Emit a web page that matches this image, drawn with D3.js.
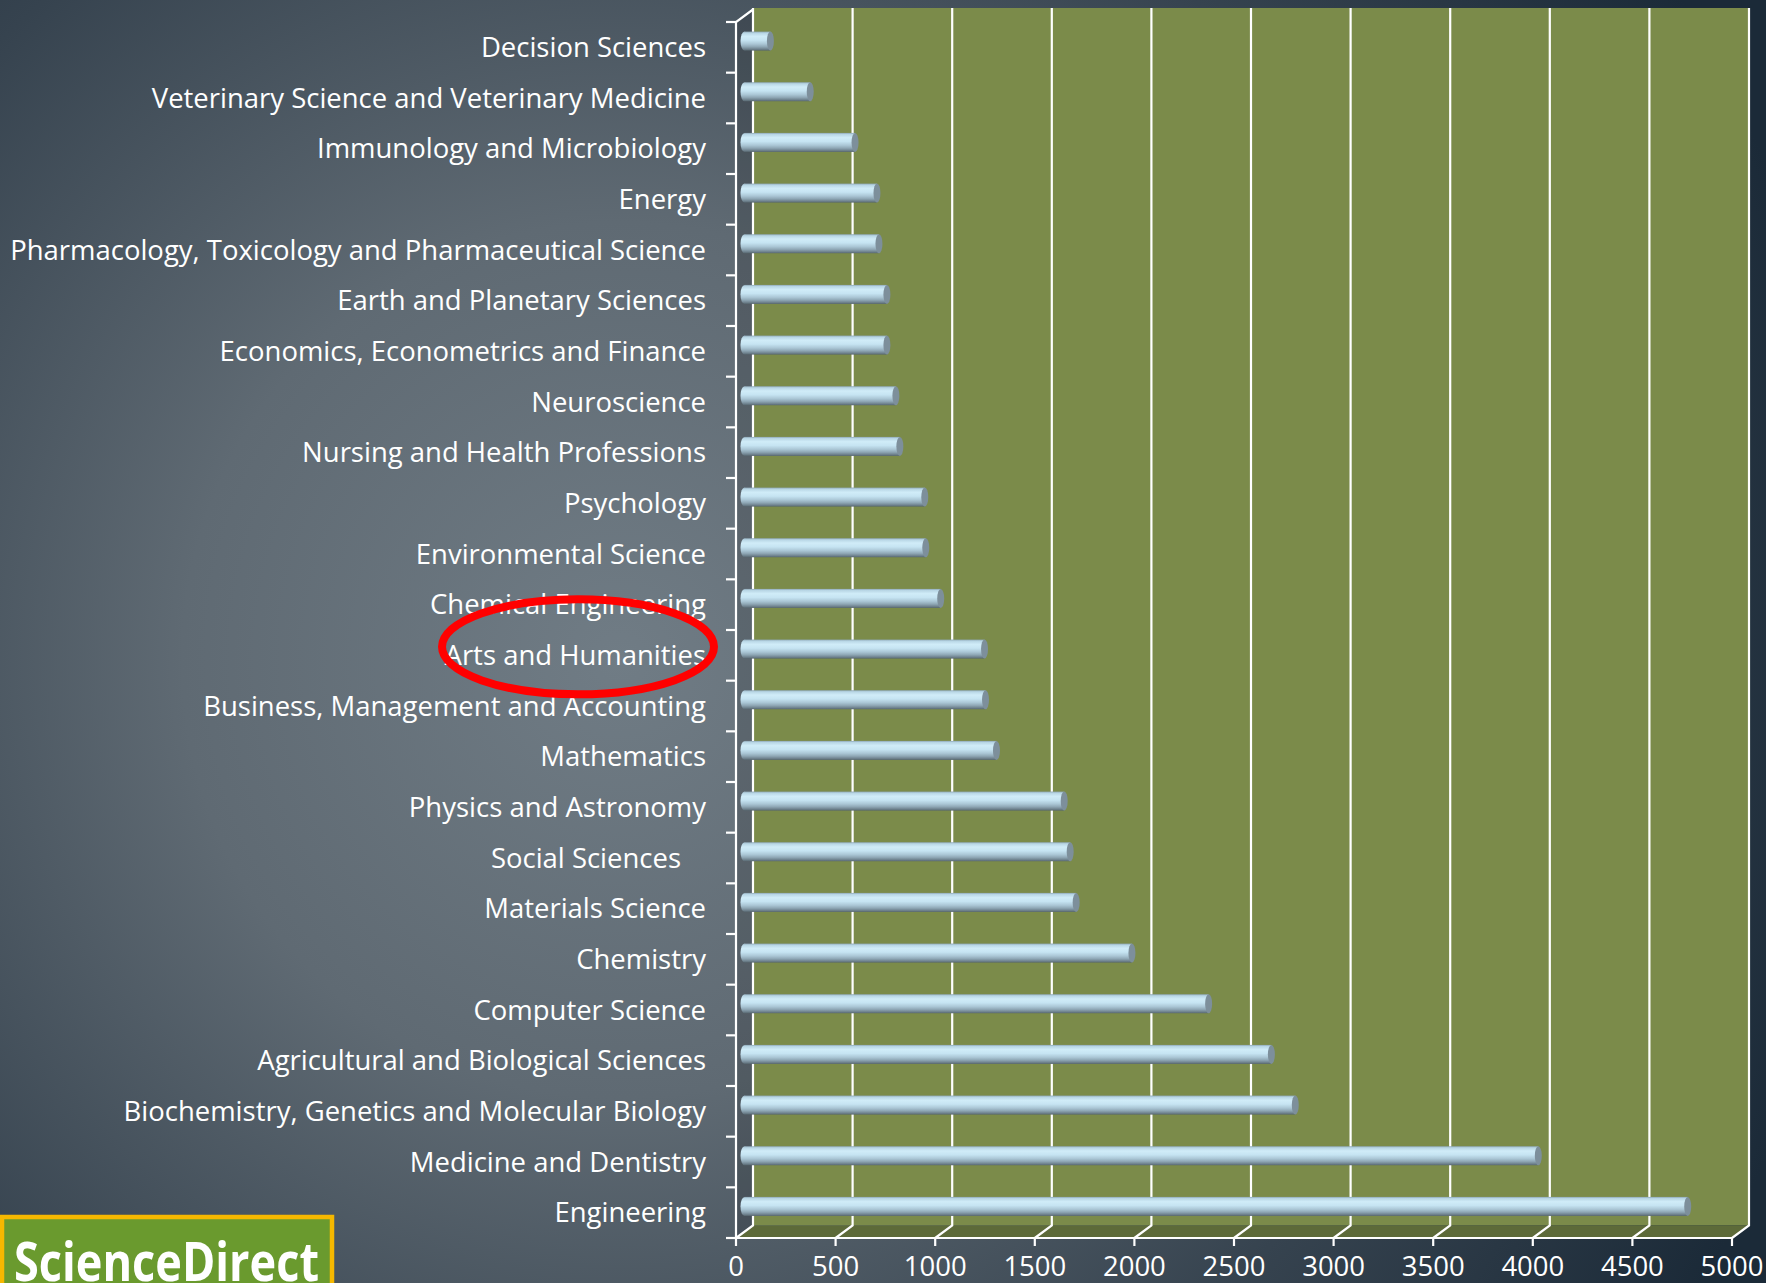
<!DOCTYPE html>
<html>
<head>
<meta charset="utf-8">
<script src="https://cdn.jsdelivr.net/npm/d3@7"></script>
<style>
  html, body { margin: 0; padding: 0; background: #1d2b39; }
  svg { display: block; }
  .cat-label, .tick-label { fill: #ffffff; font-family: "Open Sans", Lato, sans-serif; }
</style>
</head>
<body>
<svg id="chart" width="1766" height="1283"></svg>
<script>
(function () {
  "use strict";

  // data, top to bottom as in the picture
  const categories = [
    "Decision Sciences",
    "Veterinary Science and Veterinary Medicine",
    "Immunology and Microbiology",
    "Energy",
    "Pharmacology, Toxicology and Pharmaceutical Science",
    "Earth and Planetary Sciences",
    "Economics, Econometrics and Finance",
    "Neuroscience",
    "Nursing and Health Professions",
    "Psychology",
    "Environmental Science",
    "Chemical Engineering",
    "Arts and Humanities",
    "Business, Management and Accounting",
    "Mathematics",
    "Physics and Astronomy",
    "Social Sciences",
    "Materials Science",
    "Chemistry",
    "Computer Science",
    "Agricultural and Biological Sciences",
    "Biochemistry, Genetics and Molecular Biology",
    "Medicine and Dentistry",
    "Engineering"
  ];
  const counts = [
    130, 330, 555, 665, 675, 715, 715, 760, 780, 905, 910, 985,
    1205, 1210, 1265, 1605, 1635, 1665, 1945, 2330, 2645, 2765, 3985, 4735
  ];
  const xTicks = [0, 500, 1000, 1500, 2000, 2500, 3000, 3500, 4000, 4500, 5000];
  const highlighted = "Arts and Humanities";
  // the label carries trailing spaces in the source slide
  const labelPad = { "Social Sciences": 25 };

  const W = 1766, H = 1283;
  const svg = d3.select("#chart");
  const defs = svg.append("defs");

  // fake 3d depth of the plot box
  const depthX = 17, depthY = -12.5;

  const x = d3.scaleLinear().domain([0, 5000]).range([736, 1732]);
  const y = d3.scaleBand().domain(categories).range([22, 1238]).padding(0);
  const floorY = y.range()[1];
  const topY = y.range()[0];

  // background
  const bg = defs.append("radialGradient").attr("id", "bg")
    .attr("gradientUnits", "userSpaceOnUse")
    .attr("cx", 620).attr("cy", 660).attr("r", 1250);
  bg.append("stop").attr("offset", 0).attr("stop-color", "#707c85");
  bg.append("stop").attr("offset", 0.35).attr("stop-color", "#5f6a73");
  bg.append("stop").attr("offset", 0.7).attr("stop-color", "#36434f");
  bg.append("stop").attr("offset", 1).attr("stop-color", "#1b2a38");
  svg.append("rect").attr("width", W).attr("height", H).attr("fill", "url(#bg)");

  // back wall
  const plot = svg.append("g");
  plot.append("rect")
    .attr("x", x(0) + depthX).attr("y", topY + depthY - 1.5)
    .attr("width", x(5000) - x(0)).attr("height", floorY - topY + 1.5)
    .attr("fill", "#7b8b4a");

  // side wall
  plot.append("path")
    .attr("d", `M${x(0)},${topY}L${x(0) + depthX},${topY + depthY}L${x(0) + depthX},${floorY + depthY}L${x(0)},${floorY}Z`)
    .attr("fill", "#000").attr("fill-opacity", 0.14);

  // floor
  plot.append("path")
    .attr("d", `M${x(0)},${floorY}L${x(0) + depthX},${floorY + depthY}L${x(5000) + depthX},${floorY + depthY}L${x(5000)},${floorY}Z`)
    .attr("fill", "#5d6a39");

  // gridlines on wall and floor
  const grid = plot.append("g").attr("stroke", "#ffffff").attr("stroke-width", 2.2).attr("fill", "none");
  grid.selectAll("path.grid")
    .data(xTicks)
    .join("path")
    .attr("class", "grid")
    .attr("d", (d) => `M${x(d) + depthX},${topY + depthY - 1.5}V${floorY + depthY}L${x(d)},${floorY}`);

  // y axis with ticks and top diagonal
  grid.append("path")
    .attr("d", `M${x(0) + depthX},${topY + depthY}L${x(0)},${topY}V${floorY}H${x(5000)}`);
  const bounds = categories.map((c) => y(c)).concat([floorY]);
  grid.selectAll("line.ytick")
    .data(bounds)
    .join("line")
    .attr("class", "ytick")
    .attr("x1", x(0) - 10).attr("x2", x(0))
    .attr("y1", (d) => d).attr("y2", (d) => d);
  grid.selectAll("line.xtick")
    .data(xTicks)
    .join("line")
    .attr("class", "xtick")
    .attr("x1", (d) => x(d)).attr("x2", (d) => x(d))
    .attr("y1", floorY).attr("y2", floorY + 8);

  // cylinder shading
  const cyl = defs.append("linearGradient").attr("id", "cyl")
    .attr("x1", 0).attr("y1", 0).attr("x2", 0).attr("y2", 1);
  [[0, "#8ea7b6"], [0.08, "#b8d6e5"], [0.25, "#d0ecf8"], [0.45, "#c6e4f2"],
   [0.65, "#abc7d6"], [0.8, "#8fa7b5"], [0.92, "#70838f"], [1, "#56666f"]]
    .forEach(([o, c]) => cyl.append("stop").attr("offset", o).attr("stop-color", c));

  const barH = 19;
  const xm = (v) => x(v) + depthX / 2;
  const cy = (c) => y(c) + y.bandwidth() / 2 + depthY / 2;

  const bars = plot.append("g").selectAll("g.bar")
    .data(categories.map((c, i) => ({ cat: c, value: counts[i] })))
    .join("g")
    .attr("class", "bar");

  bars.append("ellipse")
    .attr("cx", xm(0)).attr("cy", (d) => cy(d.cat))
    .attr("rx", 4).attr("ry", barH / 2)
    .attr("fill", "url(#cyl)");
  bars.append("rect")
    .attr("x", xm(0))
    .attr("y", (d) => cy(d.cat) - barH / 2)
    .attr("width", (d) => xm(d.value) - xm(0))
    .attr("height", barH)
    .attr("fill", "url(#cyl)");
  bars.append("ellipse")
    .attr("cx", (d) => xm(d.value)).attr("cy", (d) => cy(d.cat))
    .attr("rx", 3.5).attr("ry", barH / 2)
    .attr("fill", "#7d8f9b");

  // category labels
  const labels = svg.append("g").selectAll("text")
    .data(categories)
    .join("text")
    .attr("class", "cat-label")
    .attr("x", (d) => 706 - (labelPad[d] || 0))
    .attr("y", (d) => y(d) + y.bandwidth() / 2)
    .attr("dy", "0.35em")
    .attr("text-anchor", "end")
    .style("font-size", "26px")
    .text((d) => d);

  // fit the font so the longest label spans the same width as the slide
  let widest = 0;
  labels.each(function () { widest = Math.max(widest, this.getComputedTextLength()); });
  const fontSize = 26 * 696 / widest;
  labels.style("font-size", fontSize + "px");

  svg.append("g").selectAll("text")
    .data(xTicks)
    .join("text")
    .attr("class", "tick-label")
    .attr("x", (d) => x(d))
    .attr("y", floorY + 28)
    .attr("dy", "0.35em")
    .attr("text-anchor", "middle")
    .style("font-size", fontSize + "px")
    .text((d) => d);

  // red ring round the highlighted label
  svg.append("ellipse")
    .attr("cx", 578).attr("cy", y(highlighted) + y.bandwidth() / 2 - 8.5)
    .attr("rx", 136).attr("ry", 47.5)
    .attr("fill", "none")
    .attr("stroke", "#ff0000")
    .attr("stroke-width", 8);

  // ScienceDirect badge
  const logo = svg.append("g");
  logo.append("rect")
    .attr("x", 2).attr("y", 1217).attr("width", 330).attr("height", 80)
    .attr("fill", "#6a9a2e").attr("stroke", "#f6b800").attr("stroke-width", 4.5);
  logo.append("text")
    .attr("x", 14).attr("y", 1281)
    .attr("textLength", 305).attr("lengthAdjust", "spacingAndGlyphs")
    .attr("fill", "#ffffff")
    .style("font-family", "'Open Sans', sans-serif")
    .style("font-weight", 700)
    .style("font-size", "54px")
    .text("ScienceDirect");
})();
</script>
</body>
</html>
